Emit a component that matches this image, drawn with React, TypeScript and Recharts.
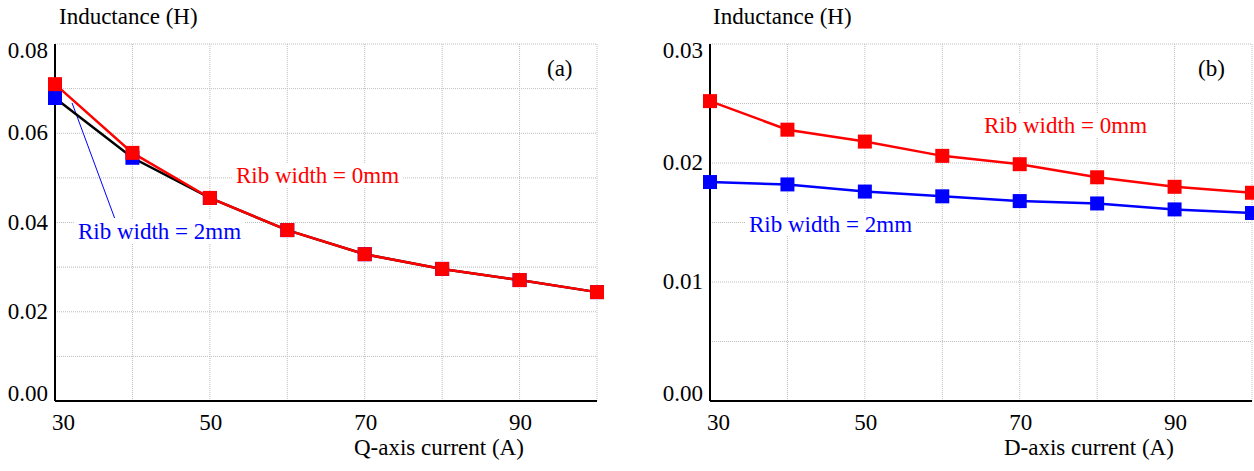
import React from 'react';
import { LineChart, Line, XAxis, YAxis, CartesianGrid, ReferenceLine } from 'recharts';

// currents (A)
const currents = [30, 40, 50, 60, 70, 80, 90, 100];

// (a) Q-axis inductance (H)
const qRib0 = [0.071, 0.0556, 0.0455, 0.0383, 0.0329, 0.0296, 0.0271, 0.0244];
const qRib2 = [0.0679, 0.0545, 0.0455, 0.0383, 0.0329, 0.0296, 0.0271, 0.0244];

// (b) D-axis inductance (H)
const dRib0 = [0.0252, 0.0228, 0.0218, 0.0206, 0.0199, 0.0188, 0.018, 0.0175];
const dRib2 = [0.0184, 0.0182, 0.0176, 0.0172, 0.0168, 0.0166, 0.0161, 0.0158];

// grid positions / labelled ticks
const xGrid = [30, 40, 50, 60, 70, 80, 90, 100];
const xLabels = [30, 50, 70, 90];
const qYGrid = [0, 0.01, 0.02, 0.03, 0.04, 0.05, 0.06, 0.07, 0.08];
const qYLabels = [0, 0.02, 0.04, 0.06, 0.08];
const dYGrid = [0, 0.005, 0.01, 0.015, 0.02, 0.025, 0.03];
const dYLabels = [0, 0.01, 0.02, 0.03];

// leader line from the 2mm point to its label, in data units
const qLeader = [
  { x: 32.2, y: 0.0668 },
  { x: 37.7, y: 0.041 },
];

const qData = currents.map((c, i) => ({ c, rib0: qRib0[i], rib2: qRib2[i] }));
const dData = currents.map((c, i) => ({ c, rib0: dRib0[i], rib2: dRib2[i] }));

const FONT = "'Liberation Serif', 'Times New Roman', serif";
const FS = 23;
const RED = '#ff0000';
const BLUE = '#0000ff';

const has = (arr: number[], v: number) => arr.some((a) => Math.abs(a - v) < 1e-9);

function SquareDot(props: any) {
  const { cx, cy, color } = props;
  if (cx == null || cy == null) return null;
  return <rect x={cx - 7} y={cy - 7} width={14} height={14} fill={color} />;
}

function XTick(props: any) {
  const { x, y, payload } = props;
  const v = payload.value;
  if (!has(xLabels, v)) return null;
  const first = v === xLabels[0];
  return (
    <text
      x={first ? x - 3 : x + 1}
      y={y + 21}
      textAnchor={first ? 'start' : 'middle'}
      fontFamily={FONT}
      fontSize={FS}
      fill="#000"
    >
      {v}
    </text>
  );
}

function makeYTick(labels: number[]) {
  const top = labels[labels.length - 1];
  return function YTick(props: any) {
    const { x, y, payload } = props;
    const v = payload.value;
    if (!has(labels, v)) return null;
    let dy = 7;
    if (Math.abs(v - top) < 1e-9) dy = 14;
    if (v === 0) dy = 0;
    return (
      <text x={x + 1} y={y + dy} textAnchor="end" fontFamily={FONT} fontSize={FS} fill="#000">
        {v.toFixed(2)}
      </text>
    );
  };
}

function Label({ left, baseline, color = '#000', bg = false, children }: any) {
  return (
    <div
      style={{
        position: 'absolute',
        left: bg ? left - 3 : left,
        top: baseline - FS * 0.8375,
        fontFamily: FONT,
        fontSize: FS,
        lineHeight: `${FS}px`,
        color,
        whiteSpace: 'nowrap',
        background: bg ? '#fff' : 'transparent',
        padding: bg ? '0 3px' : 0,
      }}
    >
      {children}
    </div>
  );
}

function Panel({ data, yGrid, yLabels, width, marginRight, yWidth, blueLine, leader }: any) {
  const YTick = makeYTick(yLabels);
  const top = yLabels[yLabels.length - 1];
  return (
    <LineChart
      width={width}
      height={471}
      data={data}
      margin={{ top: 44, right: marginRight, bottom: 40, left: 0 }}
    >
      <CartesianGrid stroke="#bdbdbd" strokeDasharray="1 1" />
      <XAxis
        dataKey="c"
        type="number"
        domain={[30, 100]}
        ticks={xGrid}
        tickLine={false}
        height={30}
        axisLine={{ stroke: '#000', strokeWidth: 2 }}
        tick={<XTick />}
        interval={0}
      />
      <XAxis
        xAxisId="top"
        orientation="top"
        dataKey="c"
        type="number"
        domain={[30, 100]}
        height={0}
        tick={false}
        tickLine={false}
        axisLine={{ stroke: '#000', strokeWidth: 1.5 }}
      />
      <YAxis
        type="number"
        domain={[0, top]}
        ticks={yGrid}
        width={yWidth}
        tickLine={false}
        axisLine={{ stroke: '#000', strokeWidth: 2 }}
        tick={<YTick />}
        interval={0}
      />
      <YAxis
        yAxisId="right"
        orientation="right"
        type="number"
        domain={[0, top]}
        width={0}
        tick={false}
        tickLine={false}
        axisLine={{ stroke: '#222', strokeWidth: 1.5 }}
      />
      {leader && (
        <ReferenceLine segment={leader} stroke={BLUE} strokeWidth={1} ifOverflow="visible" />
      )}
      <Line
        dataKey="rib2"
        stroke={blueLine}
        strokeWidth={2.5}
        dot={<SquareDot color={BLUE} />}
        activeDot={false}
        isAnimationActive={false}
      />
      <Line
        dataKey="rib0"
        stroke={RED}
        strokeWidth={2.5}
        dot={<SquareDot color={RED} />}
        activeDot={false}
        isAnimationActive={false}
      />
    </LineChart>
  );
}

export default function App() {
  return (
    <div style={{ position: 'absolute', left: 0, top: 0, width: 1254, height: 471, background: '#fff', overflow: 'hidden' }}>
      <div style={{ position: 'absolute', left: 0, top: 0 }}>
        <Panel
          data={qData}
          yGrid={qYGrid}
          yLabels={qYLabels}
          width={620}
          marginRight={23}
          yWidth={55}
          blueLine="#000"
          leader={qLeader}
        />
      </div>
      <div style={{ position: 'absolute', left: 640, top: 0 }}>
        <Panel
          data={dData}
          yGrid={dYGrid}
          yLabels={dYLabels}
          width={614}
          marginRight={2}
          yWidth={70}
          blueLine={BLUE}
        />
      </div>

      <Label left={59} baseline={24}>Inductance (H)</Label>
      <Label left={713} baseline={24}>Inductance (H)</Label>
      <Label left={547} baseline={76}>(a)</Label>
      <Label left={1198} baseline={76}>(b)</Label>
      <Label left={236} baseline={183} color={RED} bg>Rib width = 0mm</Label>
      <Label left={78} baseline={239} color={BLUE} bg>Rib width = 2mm</Label>
      <Label left={984} baseline={133} color={RED} bg>Rib width = 0mm</Label>
      <Label left={749} baseline={232} color={BLUE} bg>Rib width = 2mm</Label>
      <Label left={354} baseline={455}>Q-axis current (A)</Label>
      <Label left={1004} baseline={455}>D-axis current (A)</Label>
    </div>
  );
}
